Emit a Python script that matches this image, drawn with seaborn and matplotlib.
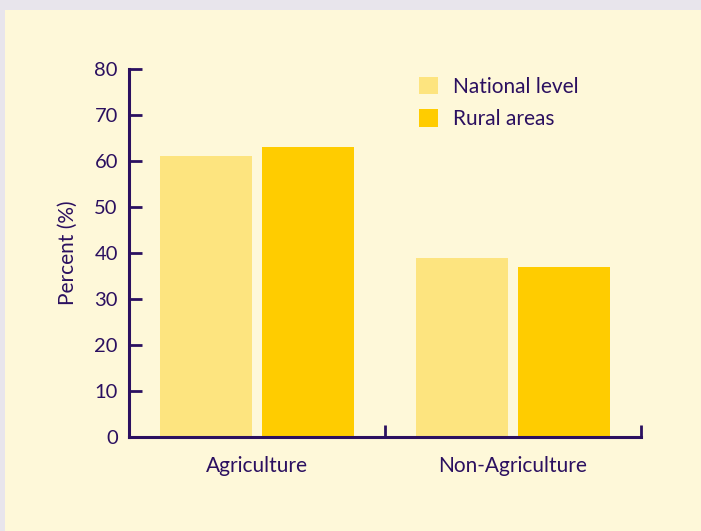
import matplotlib
matplotlib.use('Agg')
import matplotlib.pyplot as plt
import seaborn as sns
import pandas as pd
from matplotlib.patches import Rectangle

# Данные
sectors = ['Agriculture', 'Non-Agriculture']
national = [61, 39]
rural = [63, 37]
series = ['National level', 'Rural areas']
yticks = [0, 10, 20, 30, 40, 50, 60, 70, 80]

df = pd.DataFrame({
    'sector': sectors * 2,
    'value': national + rural,
    'series': [series[0]] * 2 + [series[1]] * 2,
})

sns.set_style('white')
plt.rcParams['font.family'] = ['Lato', 'DejaVu Sans']

ink = '#2B1060'
cream = '#FEF8D9'

fig = plt.figure(figsize=(7.01, 5.31), dpi=100)
fig.patch.set_facecolor('#E8E5EC')
fig.patches.append(Rectangle((5 / 701, 0), 1, 1 - 10 / 531, transform=fig.transFigure,
                             facecolor=cream, edgecolor='none', zorder=-10))

ax = fig.add_axes([129 / 701, 1 - 437 / 531, 512 / 701, 368 / 531])
ax.patch.set_alpha(0)

sns.barplot(data=df, x='sector', y='value', hue='series',
            palette=['#FDE47F', '#FFCC00'], gap=0.1, width=0.8,
            saturation=1, linewidth=0, edgecolor='none', ax=ax)

ax.set_xlim(-0.5, 1.5)
ax.set_ylim(0, 80)
ax.set_yticks(yticks)
ax.set_xlabel('')
ax.set_ylabel('Percent (%)', color=ink, fontsize=15, labelpad=12)

for s in ['top', 'right']:
    ax.spines[s].set_visible(False)
for s in ['left', 'bottom']:
    ax.spines[s].set_color(ink)
    ax.spines[s].set_linewidth(2.2)

ax.tick_params(axis='y', left=True, direction='in', length=9, width=2, color=ink,
               labelcolor=ink, labelsize=14.5, pad=8)
ax.tick_params(axis='x', which='major', bottom=False, length=0, labelcolor=ink,
               labelsize=15, pad=14)
ax.set_xticks([-0.5, 0.5, 1.5], minor=True)
ax.tick_params(axis='x', which='minor', bottom=True, direction='in', length=9,
               width=2, color=ink)

leg = ax.legend(loc='upper left', bbox_to_anchor=(400 / 701, 1 - 58 / 531),
                bbox_transform=fig.transFigure, frameon=False, fontsize=15,
                handlelength=0.9, handleheight=0.9, handletextpad=0.75,
                labelspacing=0.6, labelcolor=ink)

fig.savefig('out.png', dpi=100, facecolor=fig.get_facecolor())
